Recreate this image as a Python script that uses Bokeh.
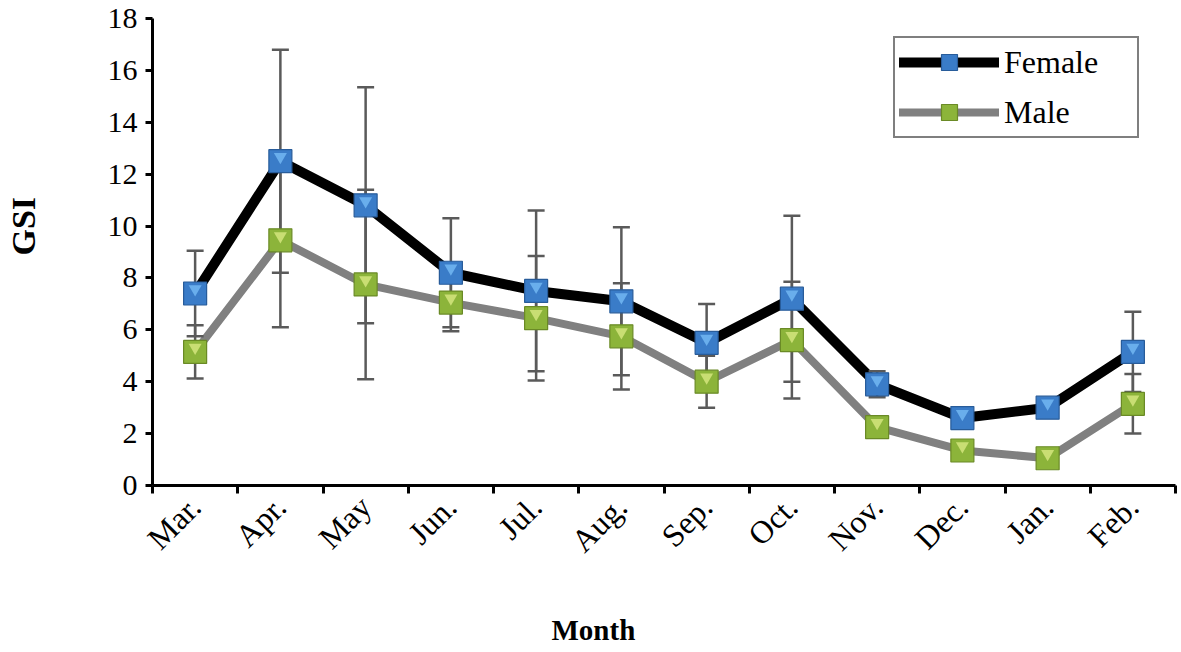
import numpy as np
from math import pi
from bokeh.plotting import figure
from bokeh.models import (ColumnDataSource, FixedTicker, Legend, LegendItem, Title, Range1d, LinearAxis)
from bokeh.transform import dodge
from bokeh.embed import file_html
from bokeh.resources import INLINE

months = ["Mar.", "Apr.", "May", "Jun.", "Jul.", "Aug.", "Sep.", "Oct.", "Nov.", "Dec.", "Jan.", "Feb."]
female = [7.4, 12.5, 10.8, 8.2, 7.5, 7.1, 5.5, 7.2, 3.9, 2.6, 3.0, 5.15]
female_sd = [1.65, 4.3, 4.55, 2.1, 3.1, 2.85, 1.5, 3.2, 0.5, 0.3, 0.3, 1.55]
male = [5.15, 9.45, 7.75, 7.05, 6.45, 5.75, 4.0, 5.6, 2.25, 1.35, 1.05, 3.15]
male_sd = [1.03, 3.35, 3.65, 1.1, 2.4, 2.05, 1.0, 2.25, 0.3, 0.2, 0.2, 1.15]
y_ticks = [0, 2, 4, 6, 8, 10, 12, 14, 16, 18]

idx = list(range(len(months)))
f = np.array(female); fs = np.array(female_sd)
m = np.array(male); ms = np.array(male_sd)
src = ColumnDataSource(dict(x=idx, f=f, m=m, f_hi=f + fs, f_lo=f - fs, m_hi=m + ms, m_lo=m - ms))

FONT = "Liberation Serif"

p = figure(width=1180, height=650, output_backend="svg", toolbar_location=None,
           x_range=Range1d(-0.5, len(months) - 0.5), y_range=Range1d(0, 18),
           min_border_left=152, min_border_right=5, min_border_top=18, min_border_bottom=165)
p.outline_line_color = None
p.grid.visible = False
p.background_fill_color = "white"
p.border_fill_color = "white"

# lines
lm = p.line("x", "m", source=src, line_color="#808080", line_width=8, line_join="round", line_cap="round")
lf = p.line("x", "f", source=src, line_color="black", line_width=10, line_join="round", line_cap="round")

# error bars
EB = "#5a5a5a"
for lo, hi in (("m_lo", "m_hi"), ("f_lo", "f_hi")):
    p.segment(x0="x", y0=lo, x1="x", y1=hi, source=src, line_color=EB, line_width=2.5)
    p.scatter("x", lo, source=src, marker="dash", size=17, line_color=EB, line_width=2.5)
    p.scatter("x", hi, source=src, marker="dash", size=17, line_color=EB, line_width=2.5)

# markers
sm = p.scatter("x", "m", source=src, marker="square", size=23, fill_color="#8cb43a", line_color="#6a8a26", line_width=1.2)
p.scatter("x", dodge("m", 0.17), source=src, marker="inverted_triangle", size=13, fill_color="#cfe27a", line_color=None, fill_alpha=0.9)
sf = p.scatter("x", "f", source=src, marker="square", size=23, fill_color="#3a7cc8", line_color="#285c9a", line_width=1.2)
p.scatter("x", dodge("f", 0.17), source=src, marker="inverted_triangle", size=13, fill_color="#6fb4f0", line_color=None, fill_alpha=0.9)

# axes
xa = p.xaxis[0]
xa.ticker = FixedTicker(ticks=idx, minor_ticks=[i - 0.5 for i in range(len(months) + 1)])
xa.major_label_overrides = {i: mo for i, mo in zip(idx, months)}
xa.major_label_orientation = pi / 4
xa.major_tick_out = 0
xa.major_tick_in = 0
xa.minor_tick_out = 8
xa.minor_tick_in = 0
xa.minor_tick_line_color = "black"
xa.minor_tick_line_width = 3
xa.axis_line_width = 3
xa.axis_line_color = "black"
xa.major_label_standoff = 8
xa.major_label_text_font = FONT
xa.major_label_text_font_size = "32px"
xa.major_label_text_color = "black"

ya = p.yaxis[0]
ya.ticker = FixedTicker(ticks=y_ticks, minor_ticks=[])
ya.major_tick_out = 7
ya.major_tick_in = 0
ya.major_tick_line_width = 3
ya.major_tick_line_color = "black"
ya.axis_line_width = 3
ya.axis_line_color = "black"
ya.major_label_standoff = 8
ya.major_label_text_font = FONT
ya.major_label_text_font_size = "30px"
ya.major_label_text_color = "black"

# blank spacer axes (white tick in empty margin, no labels, no line) to push the axis titles outward
def spacer(gap, tick):
    return LinearAxis(ticker=FixedTicker(ticks=[tick], minor_ticks=[]), major_tick_out=gap, major_tick_in=0,
                      minor_tick_out=0, minor_tick_in=0, major_label_standoff=0,
                      major_label_text_color=None, major_label_text_font_size="1px",
                      major_tick_line_color="white", minor_tick_line_color=None, axis_line_color=None)

p.add_layout(spacer(61, y_ticks[-1]), "left")
p.add_layout(spacer(35, len(months) - 0.5), "below")

# axis titles
p.add_layout(Title(text="GSI", align="left", offset=230, standoff=4, vertical_align="bottom",
                   text_font=FONT, text_font_size="34px", text_font_style="bold", text_color="black"), "left")
p.add_layout(Title(text="Month", align="left", offset=399, standoff=4, vertical_align="bottom",
                   text_font=FONT, text_font_size="29px", text_font_style="bold", text_color="black"), "below")

legend = Legend(items=[LegendItem(label="Female", renderers=[lf, sf]),
                       LegendItem(label="Male", renderers=[lm, sm])],
                location=(741, 347))
legend.label_text_font = FONT
legend.label_text_font_size = "32px"
legend.label_text_color = "black"
legend.glyph_width = 100
legend.glyph_height = 40
legend.label_width = 129
legend.spacing = 10
legend.padding = 4
legend.margin = 0
legend.label_standoff = 5
legend.border_line_color = "black"
legend.border_line_width = 2.5
legend.background_fill_color = "white"
legend.background_fill_alpha = 1
p.add_layout(legend)

open("out.html", "w").write(file_html(p, INLINE))
